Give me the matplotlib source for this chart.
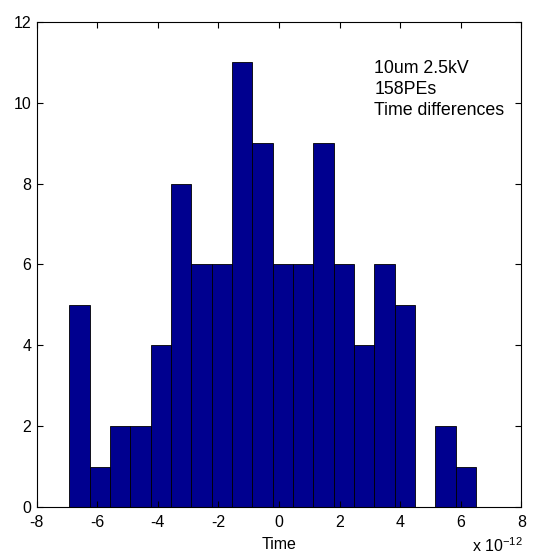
import matplotlib.pyplot as plt
import numpy as np

plt.rcParams['font.family'] = ['Liberation Sans', 'DejaVu Sans']
plt.rcParams['axes.unicode_minus'] = False

# histogram of time differences (x in units of 1e-12)
counts = [5, 1, 2, 2, 4, 8, 6, 6, 11, 9, 6, 6, 9, 6, 4, 6, 5, 0, 2, 1]
t_min = -6.93
t_max = 6.50
xticks = [-8, -6, -4, -2, 0, 2, 4, 6, 8]
yticks = [0, 2, 4, 6, 8, 10, 12]
note = "10um 2.5kV\n158PEs\nTime differences"

edges = np.linspace(t_min, t_max, len(counts) + 1)
width = edges[1] - edges[0]

fig = plt.figure(figsize=(5.33, 5.59), dpi=100)
ax = fig.add_axes([0.069, 0.093, 0.909, 0.868])

ax.bar(edges[:-1], counts, width, align='edge', color='#00008f',
       edgecolor='black', linewidth=0.6)

ax.set_xlim(-8, 8)
ax.set_ylim(0, 12)
ax.set_xticks(xticks)
ax.set_yticks(yticks)
ax.tick_params(direction='in', top=True, right=True, labelsize=11.5,
               length=4, width=0.8)
ax.tick_params(axis='x', pad=6)
ax.tick_params(axis='y', pad=4)
ax.set_xlabel("Time", fontsize=11.5, labelpad=5)

ax.text(3.15, 11.05, note, fontsize=12.8, va='top', ha='left', linespacing=1.3)
fig.text(0.886, 0.008, r"x 10$^{\mathregular{-12}}$", fontsize=11.5,
         ha='left', va='bottom')

fig.savefig("out.png", dpi=100)
